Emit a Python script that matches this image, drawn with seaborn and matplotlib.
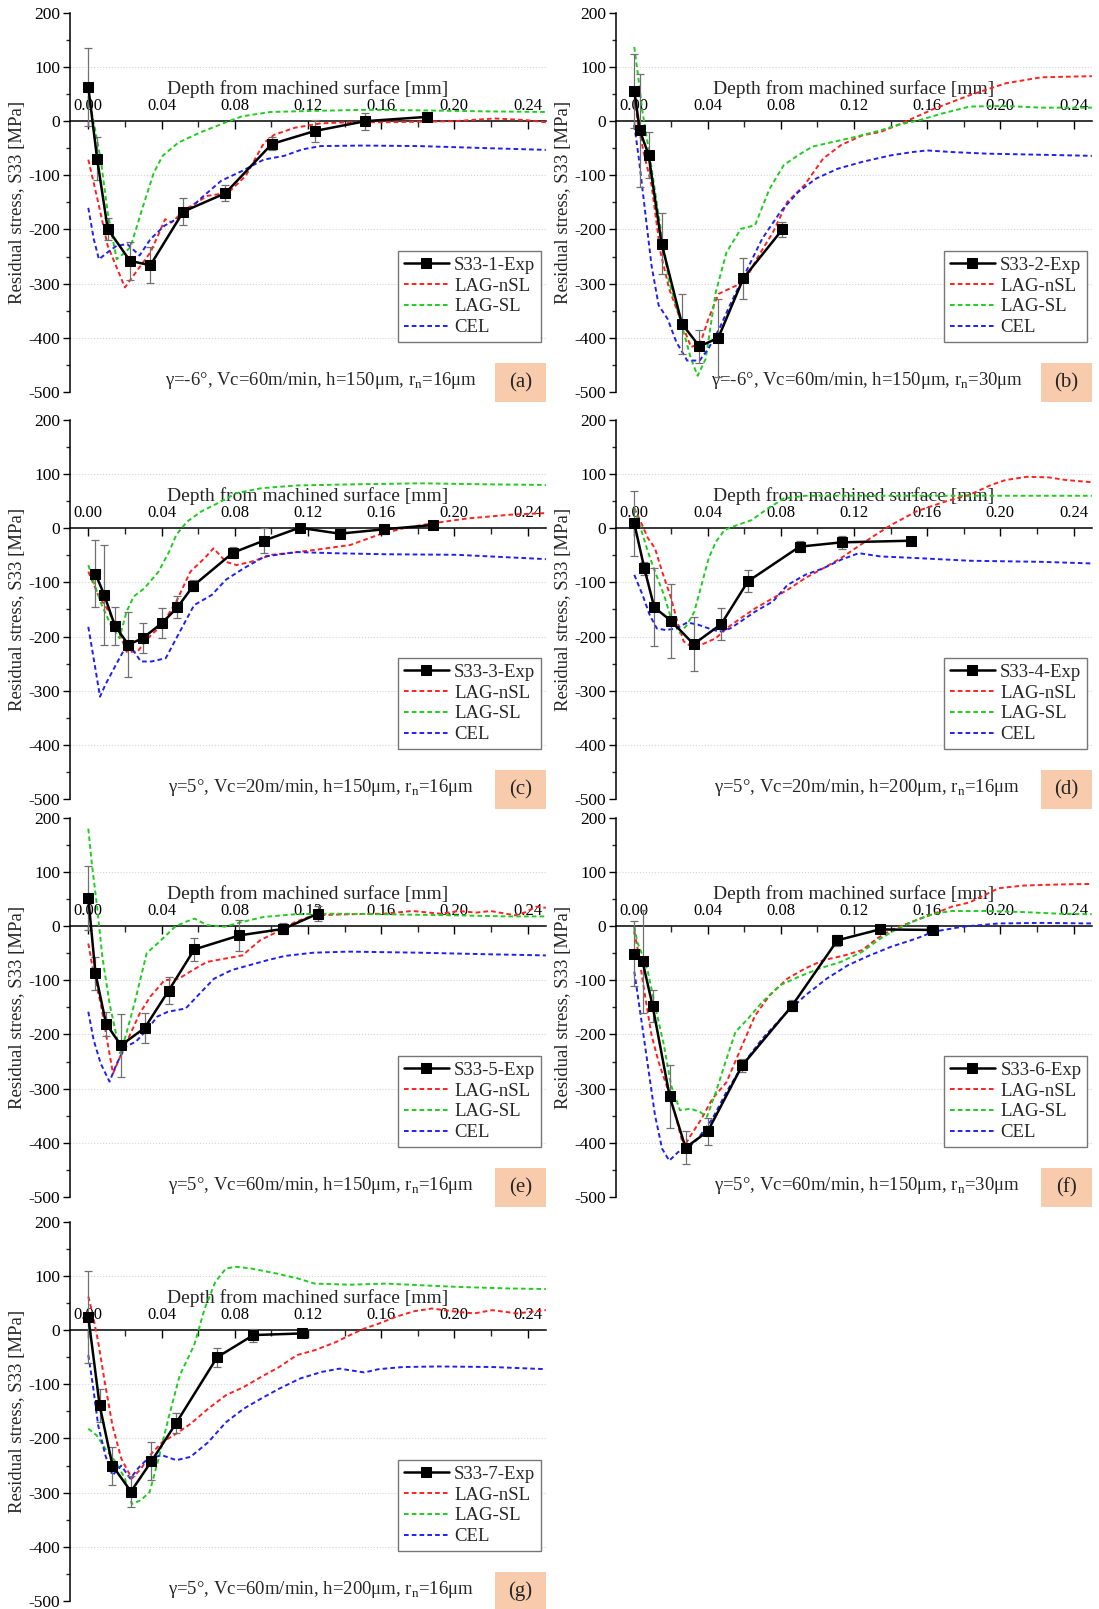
import matplotlib
matplotlib.use("Agg")
import matplotlib.pyplot as plt
import seaborn as sns
from matplotlib.patches import Rectangle
from matplotlib.ticker import MultipleLocator

# ---------------- data ----------------
# (a)
a_exp_x = [0.000, 0.0048, 0.0106, 0.0228, 0.0339, 0.0519, 0.0749, 0.1003, 0.1239, 0.1513, 0.1852]
a_exp_y = [63, -69, -199, -258, -266, -167, -133, -42, -18, 0, 8]
a_exp_err = [72, 40, 20, 35, 33, 25, 15, 12, 20, 16, 5]
a_nsl_x = [0.0, 0.005, 0.0106, 0.020, 0.026, 0.034, 0.042, 0.0455, 0.053, 0.065, 0.0765, 0.086, 0.096,
           0.1016, 0.113, 0.127, 0.142, 0.162, 0.181, 0.2, 0.222, 0.239, 0.25]
a_nsl_y = [-71, -144, -230, -307, -279, -242, -181, -187, -163, -138, -132, -101, -40,
           -25, -12, -4, -2, -2, -1, 0, 5, 2, -2]
a_sl_x = [0.0, 0.003, 0.0068, 0.0106, 0.0155, 0.018, 0.023, 0.030, 0.0358, 0.0406, 0.049, 0.061, 0.0745,
          0.084, 0.0997, 0.123, 0.152, 0.181, 0.22, 0.25]
a_sl_y = [46, -3, -71, -169, -255, -248, -233, -156, -95, -64, -40, -21, -3, 9, 17, 19, 21, 20, 18, 17]
a_cel_x = [0.0, 0.003, 0.0058, 0.0106, 0.0155, 0.0213, 0.028, 0.0339, 0.0416, 0.0513, 0.061, 0.0726,
           0.084, 0.0958, 0.107, 0.117, 0.127, 0.15, 0.181, 0.22, 0.25]
a_cel_y = [-160, -218, -255, -242, -230, -227, -248, -218, -193, -175, -144, -110, -92, -71, -64, -52,
           -46, -45, -46, -50, -53]

# (b)
b_exp_x = [0.0, 0.003, 0.0078, 0.0149, 0.026, 0.0356, 0.0459, 0.0596, 0.0809]
b_exp_y = [56, -17, -62, -226, -374, -416, -400, -290, -200]
b_exp_err = [68, 105, 42, 57, 55, 30, 72, 38, 14]
b_nsl_x = [0.0, 0.002, 0.0055, 0.0094, 0.0143, 0.019, 0.026, 0.031, 0.036, 0.0405, 0.046, 0.0522, 0.06,
           0.068, 0.0758, 0.0836, 0.093, 0.1032, 0.113, 0.1247, 0.1345, 0.144, 0.156, 0.1638, 0.1833,
           0.203, 0.2223, 0.248, 0.25]
b_nsl_y = [57, -7, -63, -118, -242, -309, -374, -417, -411, -365, -319, -309, -297, -248, -205, -149,
           -118, -69, -44, -26, -20, -7, 11, 23, 48, 70, 81, 83, 83]
b_sl_x = [0.0, 0.002, 0.0045, 0.0084, 0.0133, 0.019, 0.025, 0.031, 0.0346, 0.039, 0.0445, 0.0504,
          0.0582, 0.066, 0.0739, 0.0817, 0.0895, 0.0973, 0.109, 0.1208, 0.1345, 0.144, 0.156, 0.168,
          0.1833, 0.203, 0.2223, 0.25]
b_sl_y = [137, 85, 17, -63, -174, -297, -365, -439, -470, -439, -316, -242, -199, -192, -125, -81,
          -63, -47, -38, -29, -17, -7, 2, 14, 27, 28, 25, 25]
b_cel_x = [0.0, 0.0025, 0.0055, 0.0094, 0.0133, 0.0182, 0.023, 0.0289, 0.0357, 0.0405, 0.0465, 0.0522,
           0.06, 0.0699, 0.0797, 0.0895, 0.0993, 0.111, 0.1247, 0.1403, 0.152, 0.16, 0.1735, 0.193,
           0.2223, 0.25]
b_cel_y = [-7, -69, -155, -266, -340, -365, -408, -442, -442, -420, -383, -340, -285, -217, -168, -131,
           -106, -88, -75, -63, -57, -54, -57, -60, -62, -64]

# (c)
c_exp_x = [0.0039, 0.0087, 0.0145, 0.0219, 0.0297, 0.0403, 0.0487, 0.0574, 0.0791, 0.0958, 0.1154,
           0.1373, 0.1613, 0.1883]
c_exp_y = [-84, -123, -180, -215, -203, -175, -146, -106, -45, -23, 1, -10, -2, 6]
c_exp_err = [62, 92, 35, 60, 28, 27, 20, 10, 10, 23, 5, 5, 8, 3]
c_nsl_x = [0.0, 0.0054, 0.0112, 0.016, 0.0209, 0.0268, 0.0326, 0.0403, 0.0481, 0.0558, 0.0636, 0.0684,
           0.0752, 0.081, 0.0888, 0.1004, 0.114, 0.1237, 0.143, 0.1586, 0.1722, 0.1877, 0.207, 0.2303, 0.25]
c_nsl_y = [-80, -123, -154, -185, -228, -228, -203, -178, -135, -80, -55, -37, -62, -68, -62, -49,
           -44, -40, -31, -12, 0, 9, 18, 25, 28]
c_sl_x = [0.0, 0.0035, 0.0074, 0.0122, 0.017, 0.0209, 0.0248, 0.0306, 0.0384, 0.0442, 0.0481, 0.0539,
          0.0617, 0.0694, 0.081, 0.0946, 0.114, 0.143, 0.1819, 0.2206, 0.25]
c_sl_y = [-68, -105, -142, -178, -203, -154, -126, -111, -80, -43, -12, 12, 31, 44, 65, 74, 79, 81, 83, 81, 80]
c_cel_x = [0.0, 0.0035, 0.0064, 0.0093, 0.0151, 0.019, 0.0238, 0.0287, 0.0345, 0.0423, 0.05, 0.0578,
           0.0675, 0.0752, 0.0849, 0.0965, 0.114, 0.1334, 0.1625, 0.2012, 0.25]
c_cel_y = [-182, -252, -311, -289, -252, -228, -222, -246, -246, -240, -191, -142, -123, -95, -74, -52,
           -44, -46, -48, -49, -57]

# (d)
d_exp_x = [0.0, 0.0055, 0.0109, 0.0201, 0.0324, 0.0475, 0.0621, 0.0903, 0.1133, 0.1513]
d_exp_y = [9, -74, -146, -171, -214, -177, -98, -34, -26, -23]
d_exp_err = [60, 12, 72, 68, 50, 30, 20, 10, 12, 0]
d_nsl_x = [0.0, 0.0035, 0.0074, 0.0113, 0.0152, 0.0201, 0.024, 0.027, 0.0309, 0.0367, 0.0446, 0.0504,
           0.0582, 0.066, 0.0758, 0.0836, 0.0934, 0.1032, 0.113, 0.1208, 0.1305, 0.1403, 0.154, 0.1696,
           0.1833, 0.195, 0.2028, 0.2145, 0.2263, 0.236, 0.25]
d_nsl_y = [37, 12, -18, -37, -80, -129, -178, -209, -218, -215, -203, -185, -166, -148, -129, -114,
           -92, -74, -55, -37, -15, 6, 31, 49, 62, 80, 89, 95, 94, 89, 85]
d_sl_x = [0.0, 0.0035, 0.0074, 0.0113, 0.0162, 0.0201, 0.025, 0.0289, 0.0328, 0.0367, 0.0407, 0.0446,
          0.0494, 0.0563, 0.0641, 0.0719, 0.0817, 0.0934, 0.1149, 0.1442, 0.1833, 0.25]
d_sl_y = [37, 0, -43, -80, -123, -166, -194, -178, -154, -105, -55, -25, -3, 6, 15, 34, 55, 60, 60, 60, 60, 60]
d_cel_x = [0.0, 0.0045, 0.0084, 0.0123, 0.0172, 0.023, 0.0289, 0.0348, 0.0407, 0.0465, 0.0524, 0.0582,
           0.066, 0.0758, 0.0836, 0.0934, 0.1032, 0.113, 0.1227, 0.1344, 0.154, 0.1833, 0.2224, 0.25]
d_cel_y = [-86, -123, -160, -185, -188, -185, -174, -178, -185, -191, -185, -172, -154, -135, -105,
           -86, -74, -58, -46, -52, -55, -60, -62, -65]

# (e)
e_exp_x = [0.0, 0.0039, 0.0097, 0.0178, 0.0308, 0.0439, 0.0579, 0.0826, 0.1066, 0.1254]
e_exp_y = [52, -87, -180, -220, -188, -119, -43, -17, -5, 23]
e_exp_err = [60, 30, 22, 58, 28, 25, 22, 28, 10, 14]
e_nsl_x = [0.0, 0.0029, 0.0068, 0.0106, 0.0135, 0.0174, 0.0223, 0.0281, 0.0339, 0.0416, 0.0494, 0.0571,
           0.0648, 0.0745, 0.0842, 0.0939, 0.1035, 0.1132, 0.123, 0.1422, 0.1616, 0.177, 0.1926, 0.2023,
           0.212, 0.2197, 0.2332, 0.239, 0.2448, 0.25]
e_nsl_y = [-32, -87, -143, -217, -272, -241, -204, -161, -130, -100, -97, -81, -66, -60, -54, -26, -10,
           8, 20, 22, 23, 28, 23, 28, 25, 28, 20, 26, 36, 34]
e_sl_x = [0.0, 0.0019, 0.0048, 0.0077, 0.0116, 0.0155, 0.0174, 0.0203, 0.0252, 0.0319, 0.0397, 0.0474,
          0.0532, 0.0581, 0.0648, 0.0745, 0.0842, 0.0958, 0.1132, 0.1326, 0.1616, 0.2003, 0.2293, 0.25]
e_sl_y = [180, 116, 36, -57, -143, -204, -235, -204, -143, -50, -26, -1, 8, 14, 2, -1, 8, 17, 22, 23,
          22, 20, 18, 18]
e_cel_x = [0.0, 0.0029, 0.0068, 0.0116, 0.0155, 0.0203, 0.0261, 0.0319, 0.0377, 0.0435, 0.0532, 0.061,
           0.0687, 0.0784, 0.0881, 0.0977, 0.1074, 0.1229, 0.1422, 0.181, 0.2197, 0.25]
e_cel_y = [-158, -210, -254, -287, -254, -223, -213, -192, -167, -158, -152, -124, -97, -81, -72, -63,
           -55, -49, -47, -49, -52, -54]

# (f)
f_exp_x = [0.0, 0.0045, 0.01, 0.0193, 0.028, 0.0401, 0.059, 0.0862, 0.111, 0.1341, 0.1632]
f_exp_y = [-51, -65, -147, -314, -409, -379, -257, -147, -26, -6, -7]
f_exp_err = [60, 95, 30, 58, 30, 25, 12, 10, 10, 3, 3]
f_nsl_x = [0.0, 0.0025, 0.0055, 0.0094, 0.0133, 0.0182, 0.023, 0.027, 0.0309, 0.0367, 0.0426, 0.0504,
           0.0582, 0.066, 0.0739, 0.0836, 0.0934, 0.1032, 0.1149, 0.1247, 0.1325, 0.1403, 0.154, 0.1638,
           0.1735, 0.1833, 0.1911, 0.199, 0.2126, 0.2322, 0.25]
f_nsl_y = [-10, -54, -121, -201, -251, -300, -356, -408, -386, -356, -319, -288, -226, -165, -128, -97,
           -78, -63, -54, -44, -23, -7, 11, 23, 36, 44, 57, 70, 75, 77, 78]
f_sl_x = [0.0, 0.0016, 0.0045, 0.0074, 0.0113, 0.0162, 0.0201, 0.025, 0.0309, 0.0358, 0.0397, 0.0446,
          0.0504, 0.0553, 0.0621, 0.0699, 0.0797, 0.0895, 0.1012, 0.1129, 0.1247, 0.1344, 0.1442, 0.156,
          0.1638, 0.1735, 0.193, 0.2126, 0.2322, 0.25]
f_sl_y = [-1, -29, -54, -84, -146, -220, -294, -340, -337, -343, -352, -306, -245, -195, -171, -140,
          -109, -94, -78, -66, -47, -23, -4, 14, 23, 28, 28, 26, 23, 22]
f_cel_x = [0.0, 0.0035, 0.0074, 0.0113, 0.0152, 0.0191, 0.024, 0.0289, 0.0348, 0.0426, 0.0504, 0.0602,
           0.0699, 0.0817, 0.0934, 0.1051, 0.1168, 0.1286, 0.1403, 0.154, 0.1638, 0.1794, 0.199, 0.2224, 0.25]
f_cel_y = [-84, -165, -257, -349, -411, -433, -417, -411, -392, -356, -306, -251, -208, -165, -128, -97,
           -72, -54, -38, -23, -10, -1, 5, 6, 5]

# (g)
g_exp_x = [0.0, 0.0062, 0.0132, 0.0233, 0.0345, 0.0481, 0.0704, 0.0902, 0.1169]
g_exp_y = [25, -139, -250, -298, -242, -171, -50, -9, -6]
g_exp_err = [85, 30, 35, 28, 35, 18, 18, 12, 3]
g_nsl_x = [0.0, 0.0025, 0.0054, 0.0093, 0.0132, 0.018, 0.0238, 0.0287, 0.0345, 0.0403, 0.0481, 0.0558,
           0.0655, 0.0752, 0.0849, 0.0946, 0.1043, 0.114, 0.1237, 0.1353, 0.143, 0.1508, 0.1586, 0.1683,
           0.178, 0.1877, 0.2012, 0.2109, 0.2206, 0.2342, 0.25]
g_nsl_y = [62, 28, -22, -102, -176, -237, -274, -256, -228, -207, -191, -173, -145, -120, -105, -86,
           -68, -46, -37, -22, -9, 3, 12, 25, 35, 40, 34, 31, 37, 31, 37]
g_sl_x = [0.0, 0.0045, 0.0093, 0.0151, 0.02, 0.0238, 0.0287, 0.0335, 0.0384, 0.0442, 0.05, 0.0578,
          0.0636, 0.0694, 0.0752, 0.081, 0.0888, 0.1023, 0.114, 0.1237, 0.143, 0.1625, 0.1819, 0.2012,
          0.2303, 0.25]
g_sl_y = [-182, -194, -219, -244, -274, -321, -314, -299, -237, -157, -83, -28, 40, 89, 114, 117, 114,
          105, 96, 86, 84, 86, 83, 80, 77, 76]
g_cel_x = [0.0, 0.0025, 0.0054, 0.0093, 0.0132, 0.018, 0.0229, 0.0277, 0.0326, 0.0403, 0.0481, 0.0558,
           0.0655, 0.0752, 0.0849, 0.0946, 0.1043, 0.1159, 0.1276, 0.1373, 0.143, 0.1508, 0.1586, 0.1721,
           0.1915, 0.2206, 0.25]
g_cel_y = [-46, -102, -176, -231, -268, -250, -274, -253, -237, -231, -240, -234, -207, -170, -145,
           -126, -108, -89, -77, -71, -74, -78, -72, -68, -67, -68, -72]

panel_tags = ["(a)", "(b)", "(c)", "(d)", "(e)", "(f)", "(g)"]
exp_names = ["S33-1-Exp", "S33-2-Exp", "S33-3-Exp", "S33-4-Exp", "S33-5-Exp", "S33-6-Exp", "S33-7-Exp"]
conditions = [
    "γ=-6°, Vc=60m/min, h=150μm, r$_\\mathregular{n}$=16μm",
    "γ=-6°, Vc=60m/min, h=150μm, r$_\\mathregular{n}$=30μm",
    "γ=5°, Vc=20m/min, h=150μm, r$_\\mathregular{n}$=16μm",
    "γ=5°, Vc=20m/min, h=200μm, r$_\\mathregular{n}$=16μm",
    "γ=5°, Vc=60m/min, h=150μm, r$_\\mathregular{n}$=16μm",
    "γ=5°, Vc=60m/min, h=150μm, r$_\\mathregular{n}$=30μm",
    "γ=5°, Vc=60m/min, h=200μm, r$_\\mathregular{n}$=16μm",
]

panels = [
    (a_exp_x, a_exp_y, a_exp_err, a_nsl_x, a_nsl_y, a_sl_x, a_sl_y, a_cel_x, a_cel_y),
    (b_exp_x, b_exp_y, b_exp_err, b_nsl_x, b_nsl_y, b_sl_x, b_sl_y, b_cel_x, b_cel_y),
    (c_exp_x, c_exp_y, c_exp_err, c_nsl_x, c_nsl_y, c_sl_x, c_sl_y, c_cel_x, c_cel_y),
    (d_exp_x, d_exp_y, d_exp_err, d_nsl_x, d_nsl_y, d_sl_x, d_sl_y, d_cel_x, d_cel_y),
    (e_exp_x, e_exp_y, e_exp_err, e_nsl_x, e_nsl_y, e_sl_x, e_sl_y, e_cel_x, e_cel_y),
    (f_exp_x, f_exp_y, f_exp_err, f_nsl_x, f_nsl_y, f_sl_x, f_sl_y, f_cel_x, f_cel_y),
    (g_exp_x, g_exp_y, g_exp_err, g_nsl_x, g_nsl_y, g_sl_x, g_sl_y, g_cel_x, g_cel_y),
]

# ---------------- style ----------------
sns.set_theme(style="white")
plt.rcParams["font.family"] = ["Liberation Serif", "DejaVu Serif"]
plt.rcParams["mathtext.fontset"] = "custom"
plt.rcParams["mathtext.rm"] = "Liberation Serif"
plt.rcParams["axes.unicode_minus"] = False

RED = "#ff2020"
GREEN = "#20cc20"
BLUE = "#2020f0"
PEACH = "#f8cbad"
dash = (0, (2.4, 1.6))

fig = plt.figure(figsize=(10.99, 16.09), dpi=100)

col_left = [0.0637, 0.5605]
row_bottom = [0.7564, 0.5034, 0.2561, 0.0050]
w, h = 0.433, 0.2356

for i, (ex, ey, eerr, nx, ny, sx, sy, cx, cy) in enumerate(panels):
    ax = fig.add_axes([col_left[i % 2], row_bottom[i // 2], w, h])

    for gy in [100, -100, -200, -300, -400]:
        ax.axhline(gy, color="#d4d4d4", lw=0.8, ls=":", zorder=0)

    ax.errorbar(ex, ey, yerr=eerr, fmt="none", ecolor="#707070", elinewidth=0.9,
                capsize=3, capthick=0.9, zorder=4)
    sns.lineplot(x=ex, y=ey, ax=ax, color="black", lw=1.8, marker="s", markersize=6.5,
                 markeredgecolor="black", sort=False, estimator=None, label=exp_names[i], zorder=5)
    sns.lineplot(x=nx, y=ny, ax=ax, color=RED, lw=1.4, linestyle=dash, sort=False,
                 estimator=None, label="LAG-nSL", zorder=3)
    sns.lineplot(x=sx, y=sy, ax=ax, color=GREEN, lw=1.4, linestyle=dash, sort=False,
                 estimator=None, label="LAG-SL", zorder=3)
    sns.lineplot(x=cx, y=cy, ax=ax, color=BLUE, lw=1.4, linestyle=dash, sort=False,
                 estimator=None, label="CEL", zorder=3)

    ax.set_xlim(-0.01, 0.25)
    ax.set_ylim(-500, 200)

    # x axis drawn through y = 0 with labels above it
    ax.spines["top"].set_position(("data", 0))
    ax.spines["bottom"].set_visible(False)
    ax.spines["right"].set_visible(False)
    for s in ["top", "left"]:
        ax.spines[s].set_color("black")
        ax.spines[s].set_linewidth(1.1)
    ax.xaxis.set_ticks_position("top")
    ax.xaxis.set_label_position("top")
    ax.xaxis.set_minor_locator(MultipleLocator(0.02))
    ax.set_xticks([0.0, 0.04, 0.08, 0.12, 0.16, 0.20, 0.24])
    ax.set_xticklabels(["0.00", "0.04", "0.08", "0.12", "0.16", "0.20", "0.24"])
    ax.tick_params(axis="x", which="major", direction="in", length=6, width=1, pad=5,
                   labelsize=12, colors="black")
    ax.tick_params(axis="x", which="minor", direction="in", length=4, width=1)

    ax.yaxis.set_major_locator(MultipleLocator(100))
    ax.yaxis.set_minor_locator(MultipleLocator(50))
    ax.tick_params(axis="y", which="major", direction="out", left=True, length=5, width=1,
                   pad=2, labelsize=12.5, colors="black")
    ax.tick_params(axis="y", which="minor", direction="out", left=True, length=3, width=1)

    ax.set_xlabel("Depth from machined surface [mm]", fontsize=14, labelpad=3)
    ax.set_ylabel("Residual stress, S33 [MPa]", fontsize=13.5, labelpad=2)

    handles, labels = ax.get_legend_handles_labels()
    ax.legend(handles, labels, loc="lower right", bbox_to_anchor=(0.99, 0.132), fontsize=13.5,
              frameon=True, fancybox=False, edgecolor="#777777", framealpha=1,
              handlelength=2.4, handletextpad=0.3, borderpad=0.3, labelspacing=0.2,
              borderaxespad=0)

    ax.text(0.528, 0.03, conditions[i], transform=ax.transAxes, ha="center", va="center",
            fontsize=13.5)
    ax.add_patch(Rectangle((0.893, -0.026), 0.107, 0.102, transform=ax.transAxes,
                           facecolor=PEACH, edgecolor="none", clip_on=False, zorder=6))
    ax.text(0.9465, 0.025, panel_tags[i], transform=ax.transAxes, ha="center", va="center",
            fontsize=15, zorder=7)

fig.savefig("out.png", dpi=100)
